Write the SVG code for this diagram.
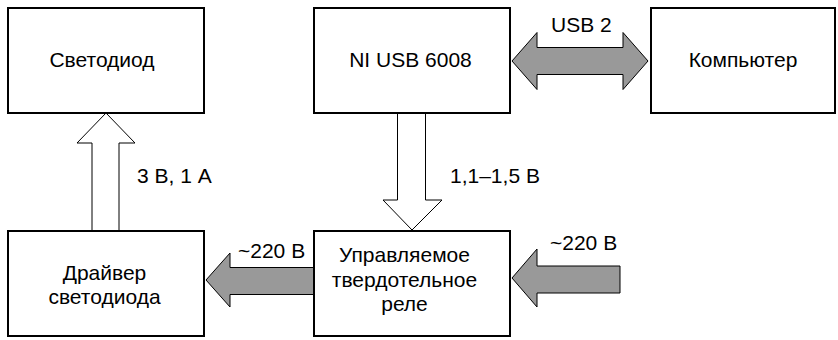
<svg xmlns="http://www.w3.org/2000/svg" width="838" height="340" viewBox="0 0 838 340">
<style>
.box{fill:#fff;stroke:#000;stroke-width:2}
.t{font-family:"Liberation Sans",Arial,sans-serif;font-size:21px;fill:#000}
.c{text-anchor:middle}
.ga{fill:#999;stroke:#000;stroke-width:1}
.wa{fill:#fff;stroke:#000;stroke-width:1}
</style>
<rect width="838" height="340" fill="#fff"/>
<g id="connectors">
<path class="ga" d="M512,61 L537,32.5 L537,47.5 L623,47.5 L623,32.5 L648,61 L623,89.5 L623,74.5 L537,74.5 L537,89.5 Z"/>
<path class="wa" d="M106,113 L135,143 L119,143 L119,231 L92,231 L92,143 L77,143 Z"/>
<path class="wa" d="M412,230 L442,200 L425.5,200 L425.5,113 L397.5,113 L397.5,200 L383,200 Z"/>
<path class="ga" d="M206,280 L230,253 L230,267.5 L314,267.5 L314,294.5 L230,294.5 L230,307 Z"/>
<path class="ga" d="M512,278 L537,249 L537,266 L620,266 L620,293 L537,293 L537,307 Z"/>
<text class="t" x="551" y="32">USB 2</text>
<text class="t" x="137" y="183">3 В, 1 А</text>
<text class="t" x="450" y="183">1,1–1,5 В</text>
<text class="t" x="238" y="258">~220 В</text>
<text class="t" x="550" y="250">~220 В</text>
</g>
<g id="led">
<rect class="box" x="8" y="8" width="196" height="105"/>
<text class="t c" x="102" y="67">Светодиод</text>
</g>
<g id="ni">
<rect class="box" x="314" y="8" width="196" height="105"/>
<text class="t c" x="410.5" y="67">NI USB 6008</text>
</g>
<g id="pc">
<rect class="box" x="651" y="8" width="184" height="105"/>
<text class="t c" x="743" y="67">Компьютер</text>
</g>
<g id="driver">
<rect class="box" x="8" y="231" width="196" height="105"/>
<text class="t c" x="104.5" y="280">Драйвер</text>
<text class="t c" x="104.5" y="303.5">светодиода</text>
</g>
<g id="relay">
<rect class="box" x="314" y="231" width="196" height="105"/>
<text class="t c" x="404.5" y="262">Управляемое</text>
<text class="t c" x="404.5" y="286.5">твердотельное</text>
<text class="t c" x="404.5" y="311">реле</text>
</g>
</svg>
